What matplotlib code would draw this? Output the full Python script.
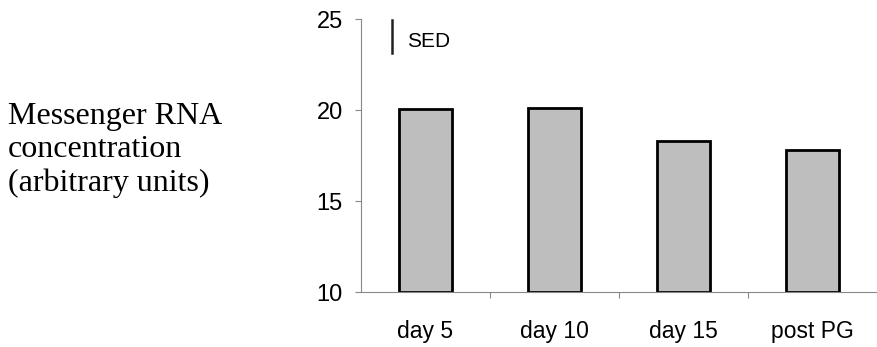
import matplotlib
matplotlib.use('Agg')
import matplotlib.pyplot as plt

# values
categories = ['day 5', 'day 10', 'day 15', 'post PG']
mrna = [20.05, 20.1, 18.3, 17.8]
sed_bottom = 23.15
sed_top = 24.95

fig = plt.figure(figsize=(8.77, 3.47), dpi=100)
ax = fig.add_axes([0.4116, 0.1585, 0.5884, 0.7855])

x = list(range(len(categories)))
ax.bar(x, [v - 10 for v in mrna], bottom=10, width=0.41,
       color='#bebebe', edgecolor='black', linewidth=2)

# SED bar
ax.plot([-0.26, -0.26], [sed_bottom, sed_top], color='#222222', lw=1.8)
ax.text(-0.145, 23.8, 'SED', fontsize=15, family='Liberation Sans', va='center')

ax.set_xlim(-0.5, len(categories) - 0.5)
ax.set_ylim(10, 25)
ax.set_yticks([10, 15, 20, 25])
ax.set_xticks([i + 0.5 for i in range(len(categories) - 1)])
ax.set_xticklabels([])
ax.tick_params(axis='y', direction='out', length=4, color='#888888',
               labelsize=17, pad=9)
ax.tick_params(axis='x', direction='out', length=4, color='#888888')
for lbl in ax.get_yticklabels():
    lbl.set_family('Liberation Sans')
for i, c in enumerate(categories):
    ax.text(i, 7.85, c, ha='center', va='center', fontsize=16.5,
            family='Liberation Sans')

for s in ['top', 'right']:
    ax.spines[s].set_visible(False)
for s in ['left', 'bottom']:
    ax.spines[s].set_color('#888888')
    ax.spines[s].set_linewidth(0.8)

fig.text(0.009, 0.567, 'Messenger RNA\nconcentration\n(arbitrary units)',
         fontsize=23, family='Liberation Serif', va='center', ha='left',
         linespacing=1.2)

fig.savefig('out.png', dpi=100)
